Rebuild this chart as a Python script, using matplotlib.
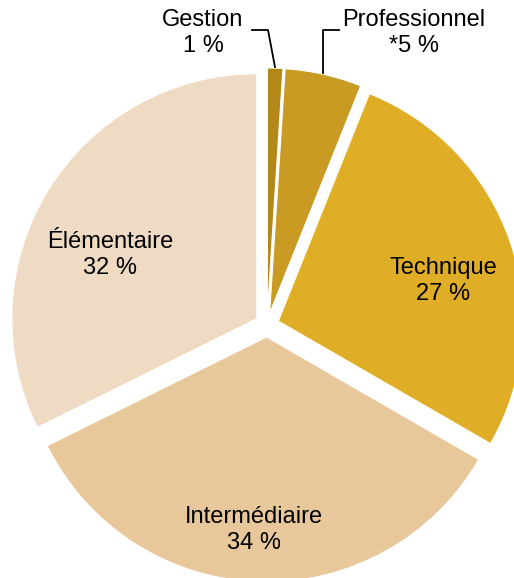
import matplotlib.pyplot as plt

plt.rcParams['font.family'] = ['Liberation Sans', 'DejaVu Sans']

# slices, clockwise from the top
names = ['Gestion', 'Professionnel', 'Technique', 'Intermédiaire', 'Élémentaire']
shares = [1, 5, 27, 34, 32]
share_labels = ['1 %', '*5 %', '27 %', '34 %', '32 %']
colors = ['#B48818', '#C99B23', '#DFAE26', '#E8C89A', '#EFDBC3']

W, H = 514, 578
R = 245
# pie explode is in data units here (pixels)
explode = [12] * len(shares)

fig = plt.figure(figsize=(W/100, H/100), dpi=100)
ax = fig.add_axes([0, 0, 1, 1])

ax.pie(shares, colors=colors, explode=explode, startangle=90, counterclock=False,
       center=(267, H - 325), radius=R,
       wedgeprops=dict(edgecolor='white', linewidth=0.8))
ax.set_xlim(0, W)
ax.set_ylim(0, H)
ax.set_aspect('equal')
ax.axis('off')

# label positions in pixels (x, y from top)
label_pos = [(203, 33), (414, 33), (443, 281), (254, 530), (110, 255)]
for name, lab, (px, py) in zip(names, share_labels, label_pos):
    ax.text(px, H - py, name + '\n' + lab, ha='center', va='center',
            fontsize=17, linespacing=1.22, color='black')

# leader lines for the two small slices
ax.plot([252, 268, 275], [H - 30, H - 30, H - 67], color='black', lw=1.3)
ax.plot([339, 323, 323], [H - 30, H - 30, H - 73], color='black', lw=1.3)

fig.savefig('out.png', dpi=100)
